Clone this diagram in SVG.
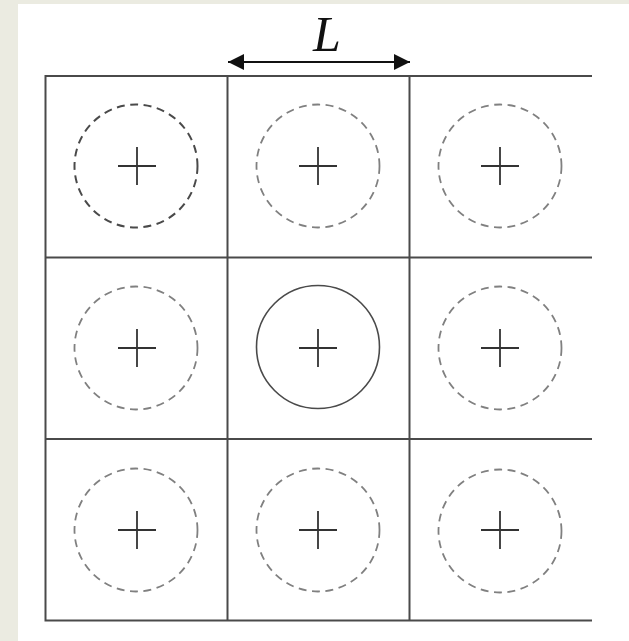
<svg xmlns="http://www.w3.org/2000/svg" width="629" height="641" viewBox="0 0 629 641">
<style>
.grid{stroke:#4a4a4a;stroke-width:2;fill:none;stroke-linecap:square}
.dash{fill:none;stroke:#808080;stroke-width:1.8;stroke-dasharray:8 5.5}
.dash.dark{stroke:#4a4a4a;stroke-width:2}
.solid{fill:none;stroke:#4a4a4a;stroke-width:1.6}
.plus{stroke:#333;stroke-width:1.8}
.lbl{font-family:"Liberation Serif",serif;font-style:italic;font-size:50px;fill:#111}
</style>
<defs>
<marker id="ah" viewBox="0 0 16 16" refX="16" refY="8" markerWidth="16" markerHeight="16" markerUnits="userSpaceOnUse" orient="auto-start-reverse">
<path d="M0,0 L16,8 L0,16 Z" fill="#111"/>
</marker>
<g id="plusShape"><path class="plus" d="M-19,0 H19 M0,-19 V19"/></g>
</defs>
<rect x="0" y="0" width="629" height="641" fill="#ebebe1"/>
<rect x="18" y="4" width="611" height="637" fill="#ffffff"/>
<g id="grid">
<path class="grid" d="M45.5,76 H591 M45.5,257.5 H591 M45.5,439 H591 M45.5,620.5 H591 M45.5,76 V620.5 M227.5,76 V620.5 M409.5,76 V620.5"/>
</g>
<g id="connectors">
<line x1="228" y1="62" x2="410" y2="62" stroke="#111" stroke-width="2" marker-start="url(#ah)" marker-end="url(#ah)"/>
</g>
<g id="label-L"><text class="lbl" x="327" y="51" text-anchor="middle">L</text></g>
<g id="c11"><circle class="dash dark" cx="136" cy="166" r="61.5"/><use href="#plusShape" x="137" y="166"/></g>
<g id="c12"><circle class="dash" cx="318" cy="166" r="61.5"/><use href="#plusShape" x="318" y="166"/></g>
<g id="c13"><circle class="dash" cx="500" cy="166" r="61.5"/><use href="#plusShape" x="500" y="166"/></g>
<g id="c21"><circle class="dash" cx="136" cy="348" r="61.5"/><use href="#plusShape" x="137" y="348"/></g>
<g id="c22"><circle class="solid" cx="318" cy="347" r="61.5"/><use href="#plusShape" x="318" y="348"/></g>
<g id="c23"><circle class="dash" cx="500" cy="348" r="61.5"/><use href="#plusShape" x="500" y="348"/></g>
<g id="c31"><circle class="dash" cx="136" cy="530" r="61.5"/><use href="#plusShape" x="137" y="530"/></g>
<g id="c32"><circle class="dash" cx="318" cy="530" r="61.5"/><use href="#plusShape" x="318" y="530"/></g>
<g id="c33"><circle class="dash" cx="500" cy="531" r="61.5"/><use href="#plusShape" x="500" y="530"/></g>
</svg>
